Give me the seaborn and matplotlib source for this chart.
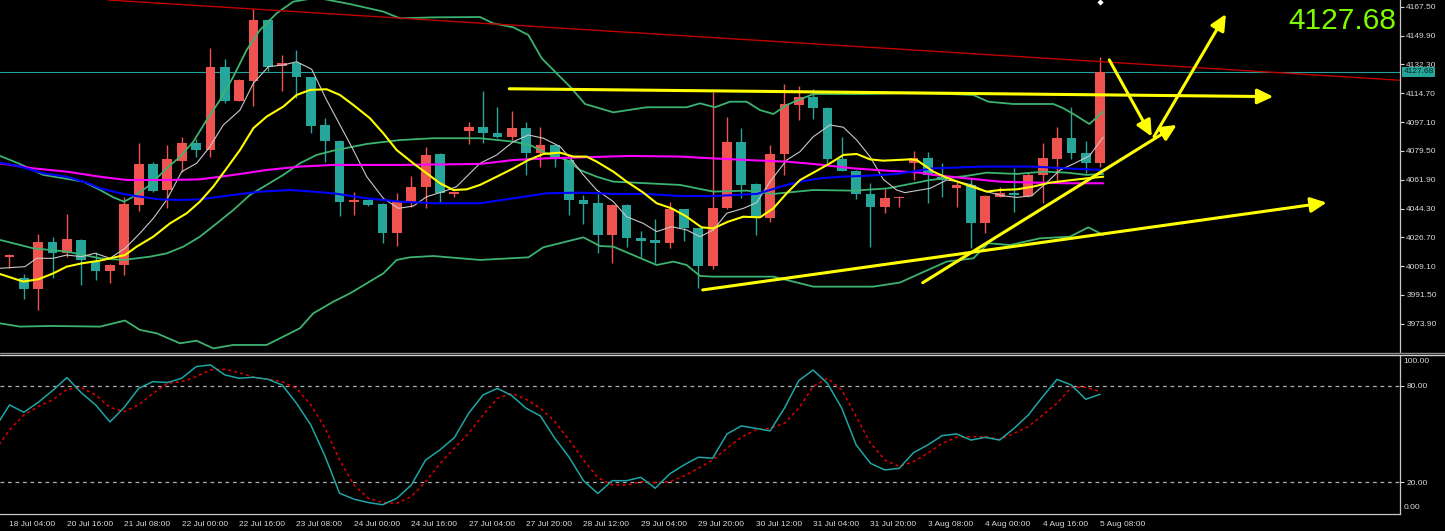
import numpy as np
import matplotlib
matplotlib.use("Agg")
import matplotlib.pyplot as plt
import matplotlib.transforms as mtransforms
from matplotlib.lines import Line2D
import seaborn as sns

sns.set_style("dark")
plt.rcParams['font.family'] = ['Liberation Sans', 'DejaVu Sans']

# ---------------- data ----------------
opens = [4014.9, 4001.7, 3995.0, 4023.7, 4017.0, 4025.1, 4011.9, 4006.4, 4009.8, 4046.5,
         4071.5, 4055.6, 4073.5, 4084.1, 4080.0, 4130.9, 4110.2, 4122.4, 4159.4, 4131.3,
         4133.3, 4124.4, 4095.3, 4085.7, 4048.1, 4049.5, 4047.1, 4029.2, 4047.9, 4057.7,
         4077.6, 4053.2, 4091.8, 4094.3, 4090.6, 4088.2, 4093.3, 4078.0, 4083.1, 4073.9,
         4049.5, 4047.5, 4028.2, 4046.5, 4026.5, 4025.1, 4023.1, 4043.8, 4032.2, 4009.2,
         4044.4, 4084.7, 4059.1, 4038.3, 4077.6, 4107.5, 4112.2, 4105.5, 4074.3, 4067.4,
         4053.2, 4045.0, 4050.5, 4072.1, 4075.0, 4063.8, 4056.6, 4058.7, 4035.7, 4051.6,
         4053.6, 4052.0, 4064.8, 4074.3, 4087.6, 4078.4, 4072.3]
highs = [4016.6, 4004.3, 4028.6, 4026.7, 4041.0, 4025.5, 4018.0, 4010.2, 4051.5, 4084.1,
         4072.5, 4083.1, 4087.8, 4086.5, 4142.1, 4135.4, 4123.2, 4165.9, 4159.8, 4138.0,
         4141.1, 4124.8, 4099.4, 4086.1, 4054.2, 4050.1, 4047.5, 4053.6, 4064.2, 4082.1,
         4078.0, 4054.8, 4097.3, 4116.3, 4106.5, 4104.0, 4097.3, 4094.3, 4083.7, 4074.3,
         4052.6, 4054.0, 4046.9, 4047.1, 4030.6, 4037.7, 4048.5, 4044.2, 4032.6, 4115.6,
         4100.4, 4093.3, 4060.1, 4083.1, 4120.3, 4119.1, 4117.1, 4106.5, 4087.8, 4067.8,
         4059.7, 4056.0, 4052.0, 4079.6, 4079.0, 4071.9, 4061.7, 4062.1, 4052.4, 4057.7,
         4068.8, 4066.8, 4084.1, 4094.3, 4106.0, 4085.7, 4136.6]
lows = [4007.8, 3988.9, 3982.4, 4001.7, 4014.9, 3997.6, 4000.7, 3999.1, 4003.7, 4043.0,
        4054.2, 4044.4, 4066.8, 4076.0, 4076.0, 4108.5, 4109.7, 4106.9, 4128.5, 4116.3,
        4111.6, 4090.2, 4072.9, 4039.8, 4040.4, 4046.1, 4023.1, 4021.4, 4045.0, 4044.4,
        4048.5, 4051.1, 4083.7, 4084.1, 4087.2, 4086.1, 4064.8, 4069.9, 4069.9, 4040.4,
        4034.9, 4016.9, 4010.9, 4021.0, 4014.9, 4010.9, 4020.0, 4024.7, 3995.6, 4007.2,
        4043.8, 4050.5, 4028.2, 4036.3, 4064.8, 4098.4, 4098.8, 4071.9, 4067.0, 4049.9,
        4020.6, 4041.4, 4045.0, 4061.7, 4047.5, 4051.6, 4045.0, 4020.2, 4029.6, 4051.1,
        4042.4, 4051.6, 4047.5, 4060.7, 4074.3, 4065.8, 4069.9]
closes = [4015.5, 3995.0, 4023.7, 4017.0, 4025.5, 4012.9, 4006.4, 4009.8, 4047.1, 4071.5,
          4055.2, 4074.3, 4084.1, 4080.0, 4130.9, 4110.2, 4122.8, 4159.4, 4130.9, 4133.3,
          4124.4, 4094.7, 4085.7, 4048.1, 4049.5, 4046.5, 4029.2, 4048.5, 4057.7, 4077.0,
          4053.6, 4054.4, 4094.3, 4090.6, 4088.2, 4093.7, 4078.0, 4083.1, 4075.0, 4049.5,
          4047.1, 4028.2, 4046.5, 4026.1, 4024.7, 4023.5, 4043.8, 4032.2, 4009.2, 4044.4,
          4084.7, 4058.7, 4038.3, 4077.6, 4107.9, 4112.2, 4105.5, 4074.3, 4067.4, 4053.2,
          4045.0, 4050.5, 4051.6, 4075.2, 4064.8, 4061.7, 4058.7, 4035.7, 4052.0, 4054.0,
          4052.6, 4064.8, 4075.0, 4087.6, 4078.4, 4072.3, 4127.68]

last_price = 4127.68
top_marker = (76, 4170.6)

# indicator lines: (candle position, price)
bb_upper = [(-0.66, 4076.4), (0.73, 4071.5), (2.36, 4064.8), (5.15, 4060.7), (6.31, 4055.6),
            (7.24, 4051.1), (7.98, 4048.5), (8.63, 4051.5), (9.79, 4058.7), (10.95, 4068.8),
            (11.88, 4075.9), (12.81, 4085.1), (13.74, 4098.3), (14.67, 4110.5), (15.60, 4124.8),
            (16.53, 4141.1), (17.46, 4153.3), (18.62, 4163.5), (19.78, 4170.6), (21.4, 4173.0),
            (23.73, 4169.1), (26.05, 4164.5), (27.21, 4160.4), (29.54, 4161.0), (32.79, 4161.2),
            (33.72, 4157.3), (35.11, 4154.9), (36.16, 4150.2), (37.09, 4136.0), (38.13, 4126.8),
            (39.06, 4118.7), (40.11, 4108.1), (42.08, 4103.0), (44.40, 4106.1), (47.19, 4106.1),
            (48.12, 4108.5), (49.16, 4106.1), (50.21, 4109.5), (51.37, 4109.5), (52.30, 4104.4),
            (53.23, 4102.0), (54.16, 4107.5), (55.09, 4110.9), (56.02, 4114.2), (59.51, 4114.2),
            (62.06, 4114.6), (64.38, 4114.6), (67.17, 4113.6), (68.21, 4109.5), (69.95, 4108.1),
            (72.74, 4108.1), (73.44, 4105.5), (74.25, 4101.4), (75.25, 4095.9), (76.22, 4103.4)]
bb_middle = [(-0.66, 4025.1), (1.66, 4020.0), (3.98, 4018.0), (6.31, 4013.9), (7.93, 4012.9),
             (9.79, 4014.9), (10.95, 4016.9), (12.11, 4021.0), (13.27, 4027.1), (14.44, 4035.2),
             (15.60, 4043.4), (16.76, 4052.6), (17.92, 4058.7), (19.08, 4064.8), (20.24, 4071.9),
             (21.40, 4077.0), (22.56, 4079.6), (24.89, 4083.7), (27.21, 4086.1), (29.54, 4087.2),
             (32.79, 4087.2), (35.11, 4085.1), (36.27, 4083.1), (37.43, 4078.0), (38.83, 4073.9),
             (39.76, 4067.8), (40.92, 4063.7), (42.08, 4060.7), (44.40, 4059.7), (46.73, 4058.7),
             (49.05, 4054.6), (51.37, 4055.2), (53.23, 4053.2), (56.02, 4055.6), (58.81, 4055.2),
             (61.20, 4056.6), (64.15, 4061.7), (66.70, 4064.2), (68.10, 4066.2), (70.19, 4065.4),
             (72.05, 4066.8), (73.67, 4066.2), (75.07, 4064.8), (76.22, 4065.4)]
bb_lower = [(-0.66, 3974.2), (0.73, 3972.2), (2.82, 3972.6), (6.31, 3972.2), (8.05, 3975.9),
            (9.09, 3970.2), (10.26, 3968.1), (11.88, 3962.0), (13.04, 3963.6), (14.20, 3958.9),
            (15.60, 3961.0), (17.92, 3961.0), (19.31, 3967.1), (20.24, 3971.2), (21.17, 3980.3),
            (22.56, 3987.4), (23.73, 3992.5), (24.89, 3998.6), (26.05, 4004.7), (26.98, 4012.9),
            (27.91, 4014.5), (29.54, 4015.3), (32.79, 4012.9), (36.16, 4014.5), (37.20, 4020.6),
            (39.99, 4026.7), (41.15, 4021.4), (42.08, 4021.0), (45.10, 4009.8), (46.26, 4011.9),
            (47.19, 4009.8), (48.12, 4003.1), (49.05, 4002.7), (53.23, 4002.7), (56.02, 3996.6),
            (60.19, 3996.6), (62.05, 3999.1), (65.31, 4011.9), (67.17, 4013.9), (68.21, 4023.1),
            (69.72, 4022.0), (71.81, 4026.1), (73.90, 4027.1), (75.18, 4032.8), (76.22, 4028.2)]
ma_white = [(-0.66, 4007.8), (1.08, 4008.8), (1.89, 4013.9), (3.05, 4013.9), (3.98, 4015.9),
            (5.03, 4014.9), (5.96, 4017.0), (7.00, 4013.9), (8.05, 4020.0), (9.09, 4029.2),
            (10.02, 4038.3), (10.95, 4049.5), (12.00, 4066.8), (13.04, 4071.9), (13.97, 4082.1),
            (14.90, 4095.3), (16.06, 4104.4), (16.99, 4120.7), (18.04, 4130.9), (19.08, 4131.9),
            (20.01, 4133.9), (21.06, 4129.3), (22.10, 4110.5), (23.03, 4095.3), (23.96, 4080.0),
            (24.89, 4063.8), (26.05, 4050.5), (27.10, 4044.4), (28.14, 4045.8), (29.07, 4051.5),
            (30.23, 4054.6), (31.16, 4057.7), (32.09, 4065.8), (32.79, 4071.9), (33.95, 4077.0),
            (35.11, 4085.1), (36.16, 4089.2), (37.20, 4087.2), (38.37, 4082.1), (39.18, 4073.9),
            (39.99, 4064.8), (40.92, 4055.6), (42.08, 4048.5), (43.01, 4039.3), (44.17, 4035.2),
            (45.10, 4030.2), (46.14, 4033.2), (47.19, 4031.2), (48.12, 4027.1), (49.05, 4031.2),
            (49.98, 4041.4), (51.14, 4044.4), (52.07, 4047.9), (53.00, 4060.7), (54.16, 4073.9),
            (55.09, 4079.0), (56.02, 4088.2), (57.18, 4095.3), (58.11, 4093.9), (59.04, 4086.1),
            (59.97, 4075.9), (60.89, 4062.1), (61.82, 4055.6), (62.40, 4054.0), (64.15, 4056.6),
            (65.31, 4061.7), (66.12, 4060.7), (67.05, 4058.7), (68.10, 4054.6), (69.26, 4052.0),
            (70.19, 4051.1), (71.23, 4052.0), (72.28, 4060.1), (73.21, 4067.8), (74.13, 4071.5),
            (75.25, 4076.4), (76.22, 4087.8)]
ma_yellow = [(-0.66, 4004.3), (0.96, 3999.7), (2.01, 4001.1), (3.05, 4004.7), (3.98, 4008.8),
             (5.03, 4010.8), (6.31, 4012.5), (8.05, 4015.9), (8.86, 4021.0), (10.02, 4027.1),
             (11.18, 4035.2), (12.35, 4041.4), (13.27, 4048.5), (14.20, 4057.7), (15.13, 4068.8),
             (16.06, 4080.0), (16.99, 4093.3), (17.92, 4100.4), (19.08, 4106.5), (20.01, 4113.6),
             (20.94, 4116.7), (22.10, 4117.1), (23.03, 4113.6), (23.96, 4107.5), (25.12, 4099.4),
             (26.05, 4090.2), (26.98, 4080.0), (28.14, 4071.9), (29.07, 4065.8), (30.00, 4059.7),
             (30.93, 4055.6), (31.86, 4056.0), (32.79, 4058.7), (33.95, 4063.7), (35.11, 4068.8),
             (36.16, 4073.9), (37.20, 4077.6), (38.37, 4078.4), (39.29, 4076.0), (40.22, 4076.0),
             (40.92, 4072.9), (42.08, 4066.8), (43.01, 4060.7), (44.17, 4054.0), (45.10, 4047.5),
             (46.14, 4044.4), (47.19, 4039.3), (48.23, 4032.8), (49.05, 4032.2), (50.09, 4036.3),
             (51.14, 4039.3), (52.30, 4038.9), (53.23, 4044.4), (54.16, 4053.6), (55.09, 4061.7),
             (56.02, 4066.2), (57.18, 4071.9), (58.11, 4077.0), (59.04, 4077.6), (59.97, 4074.3),
             (60.89, 4073.5), (61.82, 4073.9), (62.75, 4074.3), (63.22, 4073.9), (64.38, 4066.8),
             (65.42, 4062.7), (66.70, 4058.7), (68.10, 4054.6), (69.02, 4055.6), (70.19, 4056.0),
             (71.35, 4057.7), (72.51, 4060.1), (73.67, 4061.3), (75.07, 4062.7), (76.22, 4063.7)]
ma_blue = [(-0.66, 4072.3), (0.73, 4069.9), (2.36, 4065.8), (3.98, 4063.7), (5.38, 4060.1),
           (6.31, 4056.6), (7.93, 4053.2), (9.09, 4051.5), (10.49, 4049.9), (11.88, 4049.5),
           (13.27, 4049.9), (15.60, 4052.6), (17.46, 4054.6), (19.55, 4055.6), (21.17, 4054.6),
           (22.56, 4053.6), (24.89, 4050.5), (27.21, 4048.5), (29.54, 4047.5), (32.79, 4047.5),
           (35.11, 4050.5), (37.43, 4053.6), (39.76, 4054.0), (42.08, 4053.2), (44.40, 4053.2),
           (46.73, 4051.9), (49.05, 4051.9), (52.07, 4053.2), (53.00, 4055.6), (54.16, 4058.7),
           (55.09, 4060.7), (56.49, 4062.7), (57.88, 4063.7), (59.51, 4064.2), (61.82, 4065.4),
           (64.38, 4068.8), (67.86, 4069.9), (71.35, 4069.9), (73.67, 4068.8), (76.22, 4067.8)]
ma_magenta = [(-0.66, 4071.9), (1.66, 4068.8), (3.98, 4066.8), (6.31, 4063.7), (8.17, 4061.7),
              (10.95, 4061.7), (13.27, 4062.1), (15.60, 4064.8), (17.92, 4067.8), (20.24, 4069.9),
              (22.56, 4070.9), (27.21, 4070.9), (32.79, 4071.5), (35.11, 4073.9), (37.43, 4074.9),
              (39.76, 4075.5), (43.24, 4076.4), (46.73, 4076.0), (49.05, 4074.9), (51.37, 4073.9),
              (54.16, 4072.9), (56.02, 4071.5), (58.81, 4068.8), (61.13, 4067.4), (63.45, 4066.2),
              (64.38, 4064.8), (66.70, 4062.7), (69.02, 4060.7), (71.35, 4060.1), (73.67, 4059.7),
              (76.22, 4059.7)]

# hand-drawn objects: (start position, start price, end position, end price)
red_trendline = (6.86, 4171.6, 96.9, 4122.6)
yellow_arrows = [(34.83, 4117.4, 88.07, 4112.6),
                 (48.31, 3994.6, 91.79, 4047.9),
                 (63.64, 3999.0, 81.34, 4095.3),
                 (76.64, 4135.0, 79.60, 4088.2),
                 (79.76, 4088.2, 84.77, 4163.0)]

# stochastic (positions -1 .. 76)
stoch_pos = list(range(-1, 77))
stoch_main = [54.0, 68.2, 63.6, 69.8, 77.1, 85.2, 75.8, 68.2, 57.6, 66.7, 78.5, 82.7, 82.1, 84.8,
              92.0, 93.1, 86.9, 84.8, 85.4, 84.2, 80.6, 69.2, 55.7, 36.0, 13.2, 9.5, 7.4, 6.0,
              10.1, 18.3, 33.9, 40.2, 47.8, 63.0, 74.4, 78.5, 74.0, 66.1, 61.3, 47.4, 35.6, 21.0,
              13.0, 21.0, 21.0, 23.1, 16.3, 25.2, 30.8, 35.6, 35.0, 50.1, 55.1, 53.6, 52.0, 66.1,
              83.3, 89.9, 81.6, 66.1, 43.3, 31.8, 27.7, 28.7, 38.5, 43.3, 49.1, 50.1, 46.3, 48.0,
              46.3, 53.6, 61.9, 73.3, 84.1, 80.6, 71.7, 74.8]
stoch_signal = [40.0, 52.6, 61.9, 67.1, 71.3, 77.9, 79.0, 74.4, 66.7, 64.0, 68.2, 75.4, 81.6, 82.7,
                85.8, 90.0, 90.4, 88.3, 85.4, 84.2, 82.7, 78.5, 68.2, 53.6, 33.9, 18.3, 10.1, 7.4,
                6.9, 11.1, 20.4, 31.8, 41.2, 50.5, 61.9, 72.3, 75.4, 71.7, 66.1, 57.8, 46.3, 33.9,
                23.0, 18.3, 18.3, 20.4, 19.8, 20.4, 23.9, 28.7, 33.9, 41.2, 48.0, 52.6, 53.6, 56.7,
                66.1, 79.6, 84.8, 77.5, 60.9, 44.3, 33.9, 29.8, 32.9, 38.1, 44.3, 48.0, 48.4, 48.4,
                46.7, 50.5, 54.7, 61.9, 69.2, 79.2, 79.2, 76.5]
stoch_levels = [20, 80]

price_ticks = [3973.90, 3991.50, 4009.10, 4026.70, 4044.30, 4061.90, 4079.50, 4097.10,
               4114.70, 4132.30, 4149.90, 4167.50]
time_tick_pos = [0, 4, 8, 12, 16, 20, 24, 28, 32, 36, 40, 44, 48, 52, 56, 60, 64, 68, 72, 76]
time_tick_labels = ["18 Jul 04:00", "20 Jul 16:00", "21 Jul 08:00", "22 Jul 00:00", "22 Jul 16:00",
                    "23 Jul 08:00", "24 Jul 00:00", "24 Jul 16:00", "27 Jul 04:00", "27 Jul 20:00",
                    "28 Jul 12:00", "29 Jul 04:00", "29 Jul 20:00", "30 Jul 12:00", "31 Jul 04:00",
                    "31 Jul 20:00", "3 Aug 08:00", "4 Aug 00:00", "4 Aug 16:00", "5 Aug 08:00"]

# ---------------- styling ----------------
BULL = '#ef5350'
BEAR = '#26a69a'
GRID_TXT = '#d8d8d8'
AXIS_COL = '#c8c8c8'

W, H = 1445, 531
fig = plt.figure(figsize=(W / 100, H / 100), dpi=100, facecolor='black')


def frame(x0, y0, x1, y1):
    return [x0 / W, 1 - y1 / H, (x1 - x0) / W, (y1 - y0) / H]


ax = fig.add_axes(frame(0, 0, 1400, 352))
ax2 = fig.add_axes(frame(0, 356, 1400, 514), sharex=ax)
for a in (ax, ax2):
    a.set_facecolor('black')
    a.grid(False)
    for s in a.spines.values():
        s.set_visible(False)
    a.spines['right'].set_visible(True)
    a.spines['right'].set_color(AXIS_COL)
    a.spines['right'].set_linewidth(0.9)
ax2.spines['bottom'].set_visible(True)
ax2.spines['bottom'].set_color(AXIS_COL)
ax2.spines['bottom'].set_linewidth(0.9)

# ---- candles ----
pos = np.arange(len(opens))
o = np.array(opens); c = np.array(closes); hi = np.array(highs); lo = np.array(lows)
cols = np.where(c >= o, BULL, BEAR)
ax.vlines(pos, lo, hi, colors=cols, lw=1.0, zorder=2)
body_bottom = np.minimum(o, c)
body_height = np.maximum(np.abs(c - o), 0.8)
ax.bar(pos, body_height, bottom=body_bottom, width=0.68, color=cols, linewidth=0, zorder=3)

# ---- indicator lines ----
def draw(ax_, pts, color, lw, z):
    xs = [p[0] for p in pts]
    ys = [p[1] for p in pts]
    sns.lineplot(x=xs, y=ys, ax=ax_, color=color, lw=lw, estimator=None, sort=False,
                 legend=False, zorder=z)

draw(ax, bb_upper, '#3cb371', 1.3, 4)
draw(ax, bb_middle, '#3cb371', 1.3, 4)
draw(ax, bb_lower, '#3cb371', 1.3, 4)
draw(ax, ma_white, '#c8c8c8', 0.8, 5)
draw(ax, ma_magenta, '#ff00ff', 1.5, 5)
draw(ax, ma_blue, '#0000ff', 1.5, 5)
draw(ax, ma_yellow, '#ffff00', 1.5, 6)

# current price line
ax.axhline(last_price, color='#1fa39a', lw=0.8, zorder=1)
# red trend line
rx0, ry0, rx1, ry1 = red_trendline
ax.plot([rx0, rx1], [ry0, ry1], color='#c00000', lw=1.0, zorder=6)

# yellow drawn arrows
for (x0, y0, x1, y1) in yellow_arrows:
    ax.annotate('', xy=(x1, y1), xytext=(x0, y0),
                arrowprops=dict(arrowstyle='-|>,head_length=0.8,head_width=0.38',
                                mutation_scale=12, color='#ffff00', lw=2.2,
                                shrinkA=0, shrinkB=0), zorder=7)

# small white marker at the top
ax.scatter([top_marker[0]], [top_marker[1]], marker='D', s=10, color='white', zorder=8,
           clip_on=True, linewidths=0)

ax.set_xlim(-0.662, 96.9)
ax.set_ylim(3956.7, 4171.59)
ax.yaxis.tick_right()
ax.set_yticks(price_ticks)
ax.set_yticklabels([f"{v:.2f}" for v in price_ticks])
ax.tick_params(axis='y', colors=GRID_TXT, labelsize=6, length=3, width=0.8, pad=1.5,
               direction='out')
ax.tick_params(axis='x', bottom=False, labelbottom=False)
ax.set_xlabel(''); ax.set_ylabel('')

# current price tag
trans = mtransforms.blended_transform_factory(ax.transAxes, ax.transData)
ax.text(1.0025, last_price, f"{last_price:.2f}", transform=trans, fontsize=6, color='#002222',
        va='center', ha='left', zorder=10,
        bbox=dict(boxstyle='square,pad=0.2', facecolor='#26a69a', edgecolor='none'))

# big price label
fig.text(1396 / W, 1 - 21 / H, f"{last_price:.2f}", ha='right', va='center', fontsize=21.5,
         color='#7cfc00')

# ---- stochastic ----
for lv in stoch_levels:
    ax2.axhline(lv, color='#b0b0b0', lw=0.9, ls=(0, (3, 3)), zorder=1)
sns.lineplot(x=stoch_pos, y=stoch_main, ax=ax2, color='#1fa5a5', lw=1.1, estimator=None,
             sort=False, legend=False, zorder=3)
sns.lineplot(x=stoch_pos, y=stoch_signal, ax=ax2, color='#e00000', lw=1.1, estimator=None,
             sort=False, legend=False, zorder=2, linestyle=(0, (2, 2)))
ax2.set_ylim(0.25, 98.65)
ax2.yaxis.tick_right()
ax2.set_yticks(stoch_levels)
ax2.set_yticklabels(["20.00", "80.00"])
ax2.tick_params(axis='y', colors=GRID_TXT, labelsize=6, length=3, width=0.8, pad=1.5,
                direction='out')
ax2.text(1.0025, 0.985, "100.00", transform=ax2.transAxes, fontsize=6, color=GRID_TXT,
         va='top', ha='left')
ax2.text(1.0025, 0.02, "0.00", transform=ax2.transAxes, fontsize=6, color=GRID_TXT,
         va='bottom', ha='left')
ax2.set_xticks(time_tick_pos)
ax2.set_xticklabels(time_tick_labels)
ax2.tick_params(axis='x', colors=GRID_TXT, labelsize=6, length=3, width=0.8, pad=2,
                direction='out')
for lab in ax2.get_xticklabels():
    lab.set_horizontalalignment('left')
ax2.set_xlabel(''); ax2.set_ylabel('')
ax2.set_xlim(-0.662, 96.9)

# separator between panels
for yy, col in ((352.6, '#8a8a8a'), (355.0, '#cfcfcf')):
    fig.add_artist(Line2D([0, 1], [1 - yy / H, 1 - yy / H], transform=fig.transFigure,
                          color=col, lw=1.0))

fig.savefig('out.png', dpi=100, facecolor='black')
